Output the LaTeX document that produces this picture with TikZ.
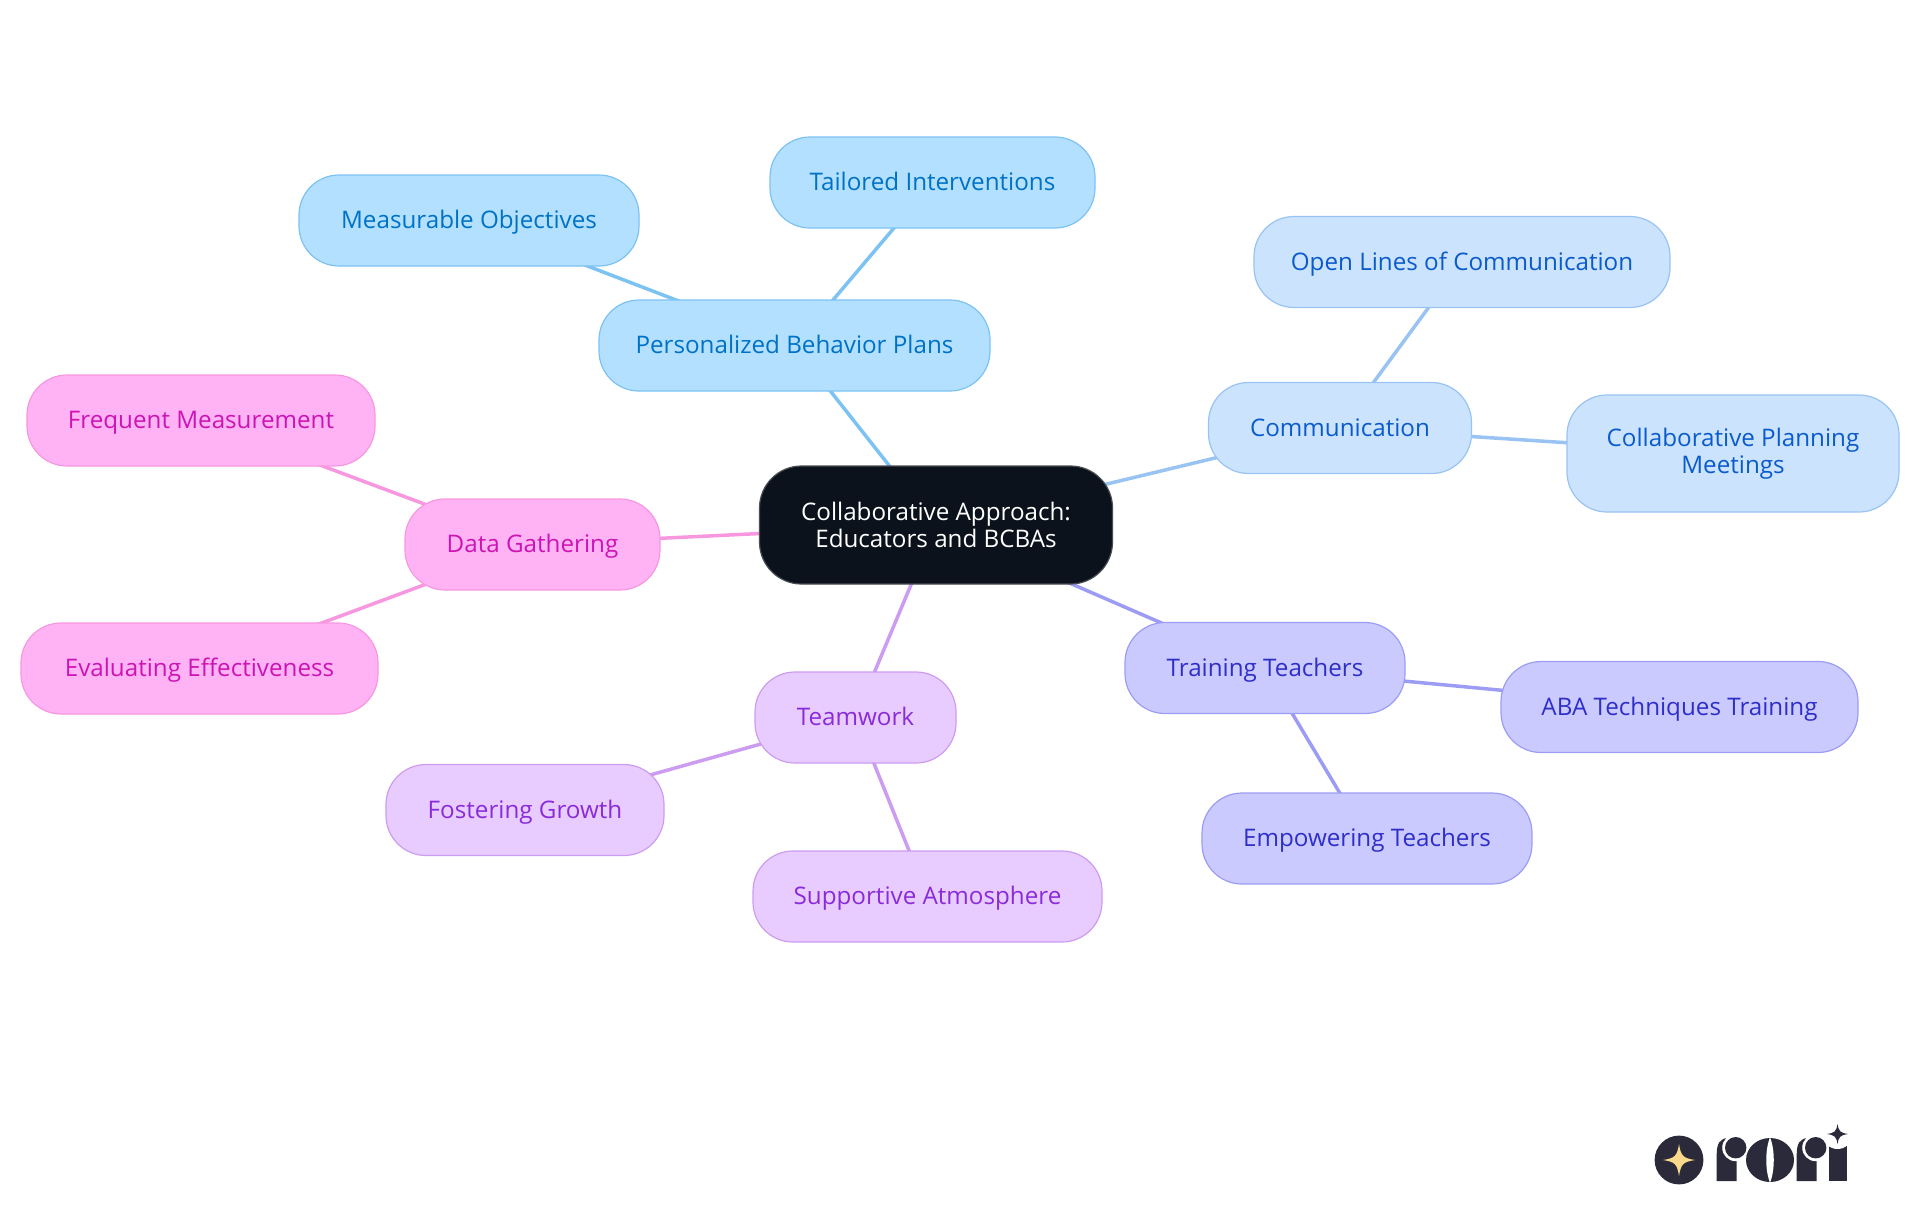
\documentclass[tikz,border=0pt]{standalone}
\usepackage{fontspec}
\setmainfont{Open Sans}
\usetikzlibrary{backgrounds}
\definecolor{rootfill}{HTML}{0B121B}
\definecolor{rootline}{HTML}{4A4D52}
\definecolor{planfill}{HTML}{B3E0FF}
\definecolor{planline}{HTML}{7CC2F2}
\definecolor{plantext}{HTML}{0072C6}
\definecolor{commfill}{HTML}{CCE3FD}
\definecolor{commline}{HTML}{98C3F3}
\definecolor{commtext}{HTML}{0A5BCC}
\definecolor{trainfill}{HTML}{CACAFF}
\definecolor{trainline}{HTML}{9C9CF4}
\definecolor{traintext}{HTML}{2F2FC8}
\definecolor{teamfill}{HTML}{E8CCFF}
\definecolor{teamline}{HTML}{CC9CF0}
\definecolor{teamtext}{HTML}{8A2BD9}
\definecolor{datafill}{HTML}{FFB3F5}
\definecolor{dataline}{HTML}{F797E0}
\definecolor{datatext}{HTML}{CC14B4}
\definecolor{roridark}{HTML}{2A2A3A}
\definecolor{rorigold}{HTML}{FBD98B}
\tikzset{
  mapnode/.style={shape=rectangle, rounded corners=20pt, line width=0.6pt, inner sep=0pt,
    align=center, font=\fontsize{12.1}{13.6}\selectfont, minimum height=45.5pt,
    text height=10.2pt, text depth=1.8pt},
  twolines/.style={text height=, text depth=, minimum height=58.5pt},
  rootnode/.style={mapnode, fill=rootfill, draw=rootline, text=white, rounded corners=21pt},
  plannode/.style={mapnode, fill=planfill, draw=planline, text=plantext},
  commnode/.style={mapnode, fill=commfill, draw=commline, text=commtext},
  trainnode/.style={mapnode, fill=trainfill, draw=trainline, text=traintext},
  teamnode/.style={mapnode, fill=teamfill, draw=teamline, text=teamtext},
  datanode/.style={mapnode, fill=datafill, draw=dataline, text=datatext},
  link/.style={line width=1.75pt},
  sparkle/.pic={
    \fill (-1,0) .. controls (-0.25,-0.12) and (-0.12,-0.25) .. (0,-1)
      .. controls (0.12,-0.25) and (0.25,-0.12) .. (1,0)
      .. controls (0.25,0.12) and (0.12,0.25) .. (0,1)
      .. controls (-0.12,0.25) and (-0.25,0.12) .. (-1,0) -- cycle;
  }
}
\begin{document}
\begin{tikzpicture}[x=0.5pt, y=-0.5pt]
    \useasboundingbox (0,0) rectangle (1920,1215);
    \node[rootnode, twolines, minimum width=176.5pt, minimum height=59pt] (root) at (936,525) {Collaborative Approach:\\Educators and BCBAs};
    \node[plannode, minimum width=195.5pt] (plans) at (794.5,345.5) {Personalized Behavior Plans};
    \node[plannode, minimum width=162.5pt] (tailored) at (932.5,182.5) {Tailored Interventions};
    \node[plannode, minimum width=170pt] (measurable) at (469,220.5) {Measurable Objectives};
    \node[commnode, minimum width=131.5pt] (comm) at (1340,428) {Communication};
    \node[commnode, minimum width=208pt] (openlines) at (1462,262) {Open Lines of Communication};
    \node[commnode, twolines, minimum width=166pt] (meetings) at (1733,453.5) {Collaborative Planning\\Meetings};
    \node[trainnode, minimum width=140pt] (training) at (1265,668) {Training Teachers};
    \node[trainnode, minimum width=178.5pt] (aba) at (1679.5,707) {ABA Techniques Training};
    \node[trainnode, minimum width=165pt] (empowering) at (1367,838.5) {Empowering Teachers};
    \node[teamnode, minimum width=100.5pt] (teamwork) at (855.5,717.5) {Teamwork};
    \node[teamnode, minimum width=139pt] (fostering) at (525,810) {Fostering Growth};
    \node[teamnode, minimum width=174.5pt] (supportive) at (927.5,896.5) {Supportive Atmosphere};
    \node[datanode, minimum width=127.5pt] (data) at (532.5,544.5) {Data Gathering};
    \node[datanode, minimum width=174pt] (frequent) at (201,420.5) {Frequent Measurement};
    \node[datanode, minimum width=178.5pt] (evaluating) at (199.5,668.5) {Evaluating Effectiveness};
    \begin{scope}[on background layer]
        \draw[link, planline] (root.center) -- (plans.center);
        \draw[link, planline] (plans.center) -- (tailored.center);
        \draw[link, planline] (plans.center) -- (measurable.center);
        \draw[link, commline] (root.center) -- (comm.center);
        \draw[link, commline] (comm.center) -- (openlines.center);
        \draw[link, commline] (comm.center) -- (meetings.center);
        \draw[link, trainline] (root.center) -- (training.center);
        \draw[link, trainline] (training.center) -- (aba.center);
        \draw[link, trainline] (training.center) -- (empowering.center);
        \draw[link, teamline] (root.center) -- (teamwork.center);
        \draw[link, teamline] (teamwork.center) -- (fostering.center);
        \draw[link, teamline] (teamwork.center) -- (supportive.center);
        \draw[link, dataline] (root.center) -- (data.center);
        \draw[link, dataline] (data.center) -- (frequent.center);
        \draw[link, dataline] (data.center) -- (evaluating.center);
    \end{scope}
    % logo
    \fill[roridark] (1679,1160) circle [radius=24.4];
    \path (1679,1160) pic[rorigold, x=8pt, y=8pt] {sparkle};
    \foreach \stemx in {1716.7,1796.7} {
        \fill[roridark] (\stemx,1181) -- (\stemx,1154) .. controls (\stemx,1144) and (\stemx+3,1138) .. (\stemx+12,1138) -- (\stemx+20,1138) -- (\stemx+20,1181) -- cycle;
        \fill[white] (\stemx+19,1147.7) circle [radius=13.5];
        \fill[roridark] (\stemx+19,1147.7) circle [radius=10.7];
    }
    \fill[roridark] (1770,1160) ellipse [x radius=24, y radius=22];
    \fill[white] (1770,1137) .. controls (1765,1150) and (1765,1170) .. (1770,1183) .. controls (1775,1170) and (1775,1150) .. (1770,1137) -- cycle;
    \fill[roridark] (1829,1181) rectangle (1846.7,1146);
    \fill[white] (1837.5,1134) circle [radius=15];
    \path (1837.5,1134) pic[roridark, x=5.3pt, y=5pt] {sparkle};
\end{tikzpicture}
\end{document}
